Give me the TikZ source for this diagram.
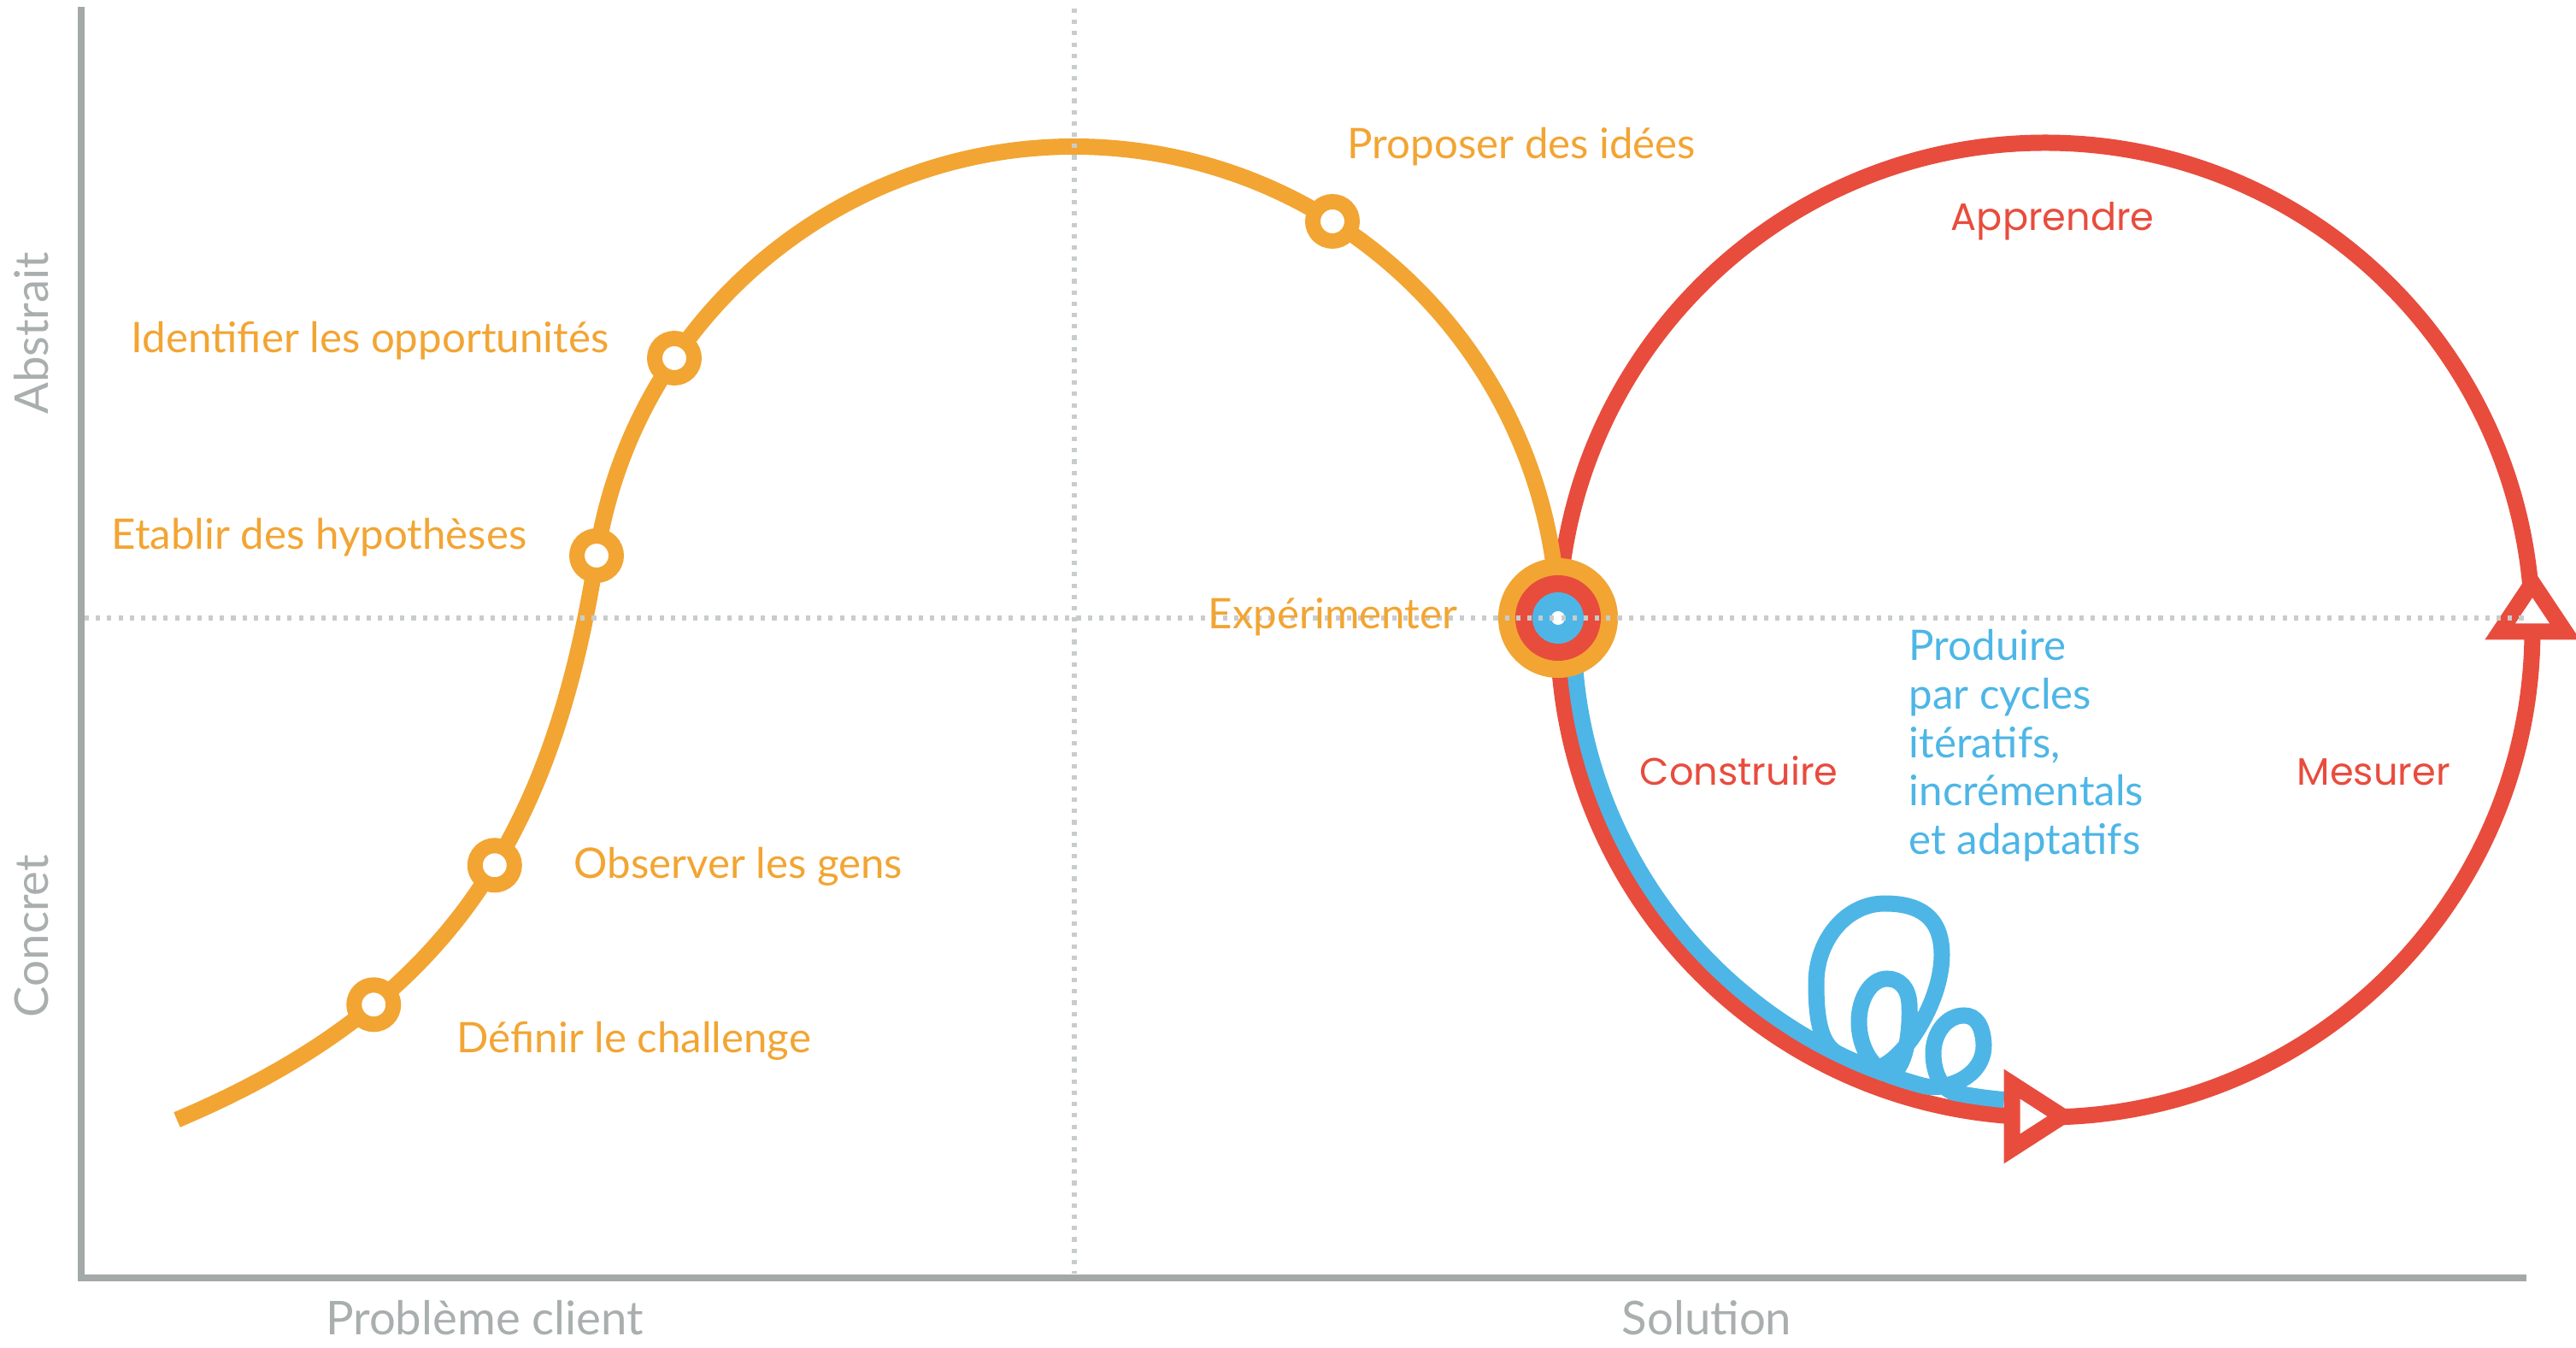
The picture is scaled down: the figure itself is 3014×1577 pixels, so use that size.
\documentclass[tikz,border=0pt]{standalone}
\usepackage{fontspec}
\setmainfont{Lato}
\newfontfamily\redfont{Poppins}
\definecolor{corange}{HTML}{F2A533}
\definecolor{cred}{HTML}{E84C3D}
\definecolor{cblue}{HTML}{4DB6E6}
\definecolor{caxis}{HTML}{A3A8A8}
\definecolor{cdotted}{HTML}{C8CCCC}
\definecolor{cgtext}{HTML}{A9AEAE}
\begin{document}
\begin{tikzpicture}[x=0.01cm,y=-0.01cm,
  axisline/.style={draw=caxis, line width=2.3pt},
  dottedline/.style={draw=cdotted, line width=1.45pt, dash pattern=on 1.45pt off 2.3pt},
  orangeline/.style={draw=corange, line width=5.4pt},
  redline/.style={draw=cred, line width=5.4pt},
  blueline/.style={draw=cblue, line width=5.4pt},
  dotring/.style={circle, draw=corange, fill=white, line width=5.1pt, minimum size=0.46cm, inner sep=0pt},
  disk/.style={circle, inner sep=0pt},
  arrowtri/.style={draw=cred, fill=white, line width=5.4pt, line join=miter},
  olabel/.style={font=\fontsize{14}{16}\selectfont, text=corange, inner sep=0pt, anchor=base west},
  rlabel/.style={font=\redfont\fontsize{12.7}{15}\selectfont, text=cred, inner sep=0pt, anchor=base west},
  blabel/.style={font=\fontsize{14}{16.1}\selectfont, text=cblue, inner sep=0pt, align=left, anchor=north west},
  glabel/.style={font=\fontsize{15.5}{18}\selectfont, text=cgtext, inner sep=0pt}
]
\useasboundingbox (0,0) rectangle (3014,1577);

% axes
\coordinate (axtop) at (95,8);
\coordinate (axorig) at (95,1495);
\coordinate (axright) at (2956,1495);
\draw[axisline] (axtop) -- (axorig) -- (axright);

% red loop
\coordinate (rc) at (2393,737);
\draw[redline] (rc) circle[radius=570];

% blue path with loops
\draw[blueline] (1841,737) arc[start angle=180, end angle=112, radius=552]
  .. controls (2214,1260) and (2272,1180) .. (2272,1117)
  .. controls (2272,1072) and (2245,1057) .. (2205,1057)
  .. controls (2160,1057) and (2125,1100) .. (2125,1150)
  .. controls (2125,1190) and (2129,1222) .. (2151,1233)
  arc[start angle=116, end angle=110, radius=552]
  .. controls (2226,1264) and (2236,1215) .. (2234,1175)
  .. controls (2233,1155) and (2222,1145) .. (2208,1145)
  .. controls (2188,1145) and (2175,1170) .. (2175,1195)
  .. controls (2175,1228) and (2193,1253) .. (2215,1259.5)
  arc[start angle=108.8, end angle=105, radius=552]
  .. controls (2276,1277) and (2322,1260) .. (2321,1222)
  .. controls (2320,1200) and (2312,1188) .. (2298,1188)
  .. controls (2278,1188) and (2262,1208) .. (2262,1232)
  .. controls (2262,1256) and (2272,1276) .. (2290,1279)
  arc[start angle=100.75, end angle=95, radius=552];

% arrowheads
\draw[arrowtri] (2354,1268) -- (2413,1306) -- (2354,1344) -- cycle;
\draw[arrowtri] (2925,739) -- (2963,682) -- (3001,739) -- cycle;

% orange path
\draw[orangeline] (207,1310) .. controls (525,1176) and (647,976) ..
  coordinate[pos=0.29] (d1) coordinate[pos=0.56] (d2) (698,650)
  arc[start angle=188.9, end angle=360, radius=566];
\coordinate (d3) at (698,650);
\coordinate (d4) at (789,419);
\coordinate (d5) at (1559,259);
\foreach \d in {d1,d2,d3,d4,d5} \node[dotring] (ring-\d) at (\d) {};

% target
\node[disk, fill=corange, minimum size=1.4cm] (tgt) at (1823,723) {};
\node[disk, fill=cred, minimum size=1.0cm] (tgtr) at (tgt) {};
\node[disk, fill=cblue, minimum size=0.6cm] (tgtb) at (tgt) {};
\node[disk, fill=white, minimum size=0.16cm] (tgtw) at (tgt) {};

% dotted guides
\coordinate (hl) at (99,723);
\coordinate (hr) at (2960,723);
\coordinate (vt) at (1257,10);
\coordinate (vb) at (1257,1490);
\draw[dottedline] (hl) -- (hr);
\draw[dottedline] (vt) -- (vb);

% labels
\node[olabel] (lchal) at (534,1232) {Définir le challenge};
\node[olabel] (lobs) at (671,1028) {Observer les gens};
\node[olabel] (lhyp) at (130,643) {Etablir des hypothèses};
\node[olabel] (lopp) at (153,413) {Identifier les opportunités};
\node[olabel] (lidee) at (1576,186) {Proposer des idées};
\node[olabel] (lexp) at (1413,736) {Expérimenter};
\node[rlabel] (lapp) at (2282,270) {Apprendre};
\node[rlabel] (lcons) at (1918,919) {Construire};
\node[rlabel] (lmes) at (2687,919) {Mesurer};
\node[blabel] (lprod) at (2233,736) {Produire\\par cycles\\itératifs,\\incrémentals\\et adaptatifs};
\node[glabel, anchor=base] (lprob) at (567,1562) {Problème client};
\node[glabel, anchor=base] (lsol) at (1997,1562) {Solution};
\node[glabel, rotate=90] (labs) at (37,390) {Abstrait};
\node[glabel, rotate=90] (lcon) at (37,1095) {Concret};
\end{tikzpicture}
\end{document}
